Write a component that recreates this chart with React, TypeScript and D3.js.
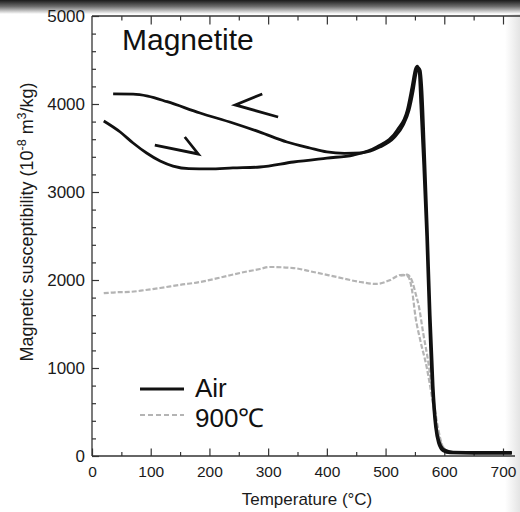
import { useEffect, useRef } from 'react';
import * as d3 from 'd3';

// Air run, heating branch (temperature °C, susceptibility 10^-8 m3/kg)
const airHeatT = [20, 48, 70, 93, 116, 138, 165, 200, 240, 286, 343, 400, 445, 485, 520, 537, 545, 551, 554, 557, 560, 565, 570, 575, 580, 585, 590, 598, 610, 650, 715];
const airHeatK = [3807, 3682, 3557, 3443, 3352, 3295, 3265, 3262, 3273, 3284, 3341, 3386, 3420, 3511, 3705, 3932, 4193, 4400, 4430, 4380, 4000, 3300, 2500, 1500, 750, 330, 150, 60, 35, 30, 30];

// Air run, cooling branch
const airCoolT = [36, 70, 95, 128, 184, 240, 286, 332, 371, 400, 430, 460, 490, 515, 530, 540, 547, 552, 556, 559, 562, 566, 571, 576, 581, 586, 592, 600, 615, 660, 715];
const airCoolK = [4114, 4112, 4090, 4026, 3898, 3784, 3680, 3568, 3500, 3455, 3440, 3445, 3510, 3620, 3760, 3930, 4150, 4350, 4410, 4380, 4150, 3500, 2600, 1600, 800, 350, 150, 70, 45, 40, 40];

// sample fired at 900°C, heating
const firedHeatT = [20, 40, 65, 90, 116, 150, 184, 220, 252, 286, 303, 343, 377, 417, 457, 485, 508, 525, 537, 545, 551, 557, 564, 573, 581, 589, 598, 610, 650, 715];
const firedHeatK = [1850, 1860, 1865, 1885, 1909, 1945, 1977, 2030, 2080, 2125, 2148, 2136, 2091, 2034, 1977, 1955, 2000, 2057, 2060, 1990, 1850, 1690, 1400, 1057, 670, 330, 102, 40, 35, 35];

// sample fired at 900°C, cooling (only the part that splits off)
const firedCoolT = [525, 533, 539, 545, 551, 559, 570, 579, 587, 598, 610, 650, 715];
const firedCoolK = [2050, 2055, 2034, 1886, 1580, 1318, 1011, 670, 330, 100, 40, 40, 40];

// direction marks drawn on the loop
const heatArrowT = [107, 181, 158];
const heatArrowK = [3534, 3432, 3625];
const coolArrowT = [290, 244, 317];
const coolArrowK = [4114, 3989, 3852];

const tempTicks = [0, 100, 200, 300, 400, 500, 600, 700];
const suscTicks = [0, 1000, 2000, 3000, 4000, 5000];

const legendNames = ['Air', '900℃'];

const font = "'Liberation Sans', Arial, sans-serif";

function zipPts(t: number[], k: number[]) {
    return t.map((d, i) => [d, k[i]] as [number, number]);
}

export default function App() {
    const ref = useRef<SVGSVGElement>(null);

    useEffect(() => {
        const width = 520;
        const height = 512;
        const left = 92;
        const top = 16;
        const bottom = 456;

        const svg = d3.select(ref.current);
        svg.selectAll('*').remove();

        // photo-like shading at top and right edge
        const defs = svg.append('defs');
        const topGrad = defs.append('linearGradient')
            .attr('id', 'topShade').attr('x1', 0).attr('y1', 0).attr('x2', 0).attr('y2', 1);
        topGrad.append('stop').attr('offset', '0%').attr('stop-color', '#1a1a1a');
        topGrad.append('stop').attr('offset', '45%').attr('stop-color', '#6a6a6a');
        topGrad.append('stop').attr('offset', '100%').attr('stop-color', '#ffffff');
        const rightGrad = defs.append('linearGradient')
            .attr('id', 'rightShade').attr('x1', 0).attr('y1', 0).attr('x2', 1).attr('y2', 0);
        rightGrad.append('stop').attr('offset', '0%').attr('stop-color', '#ffffff');
        rightGrad.append('stop').attr('offset', '100%').attr('stop-color', '#e4e4e4');

        svg.append('rect').attr('width', width).attr('height', height).attr('fill', '#fff');
        svg.append('rect').attr('x', 505).attr('width', 15).attr('height', height).attr('fill', 'url(#rightShade)');
        // dark band along the top of the photo
        svg.append('rect').attr('width', width).attr('height', 14).attr('fill', 'url(#topShade)');

        // scales
        const x = d3.scaleLinear().domain([0, 700]).range([left, 503]);
        const y = d3.scaleLinear().domain([0, 5000]).range([bottom, top]);

        const axisColor = '#333';

        // frame lines
        svg.append('line').attr('x1', left).attr('x2', left).attr('y1', top).attr('y2', bottom)
            .attr('stroke', axisColor).attr('stroke-width', 1.3);
        svg.append('line').attr('x1', left).attr('x2', 520).attr('y1', top).attr('y2', top)
            .attr('stroke', axisColor).attr('stroke-width', 1.3);
        svg.append('line').attr('x1', left).attr('x2', 515).attr('y1', bottom).attr('y2', bottom)
            .attr('stroke', axisColor).attr('stroke-width', 1.3);

        function styleAxis(g: any, size: number) {
            g.select('.domain').remove();
            g.selectAll('line').attr('stroke', axisColor).attr('stroke-width', 1.2);
            g.selectAll('text').attr('fill', '#1a1a1a').style('font-family', font).style('font-size', size + 'px');
        }

        // x axis (ticks point inward)
        svg.append('g').attr('transform', `translate(0,${bottom})`)
            .call(d3.axisBottom(x).tickValues(d3.range(50, 701, 100)).tickSize(-4).tickFormat(() => ''))
            .call((g: any) => styleAxis(g, 15));
        svg.append('g').attr('transform', `translate(0,${bottom})`)
            .call(d3.axisBottom(x).tickValues(tempTicks).tickSize(-7.5).tickPadding(10).tickFormat(d3.format('d')))
            .call((g: any) => styleAxis(g, 15.5));

        // top ticks
        svg.append('g').attr('transform', `translate(0,${top})`)
            .call(d3.axisTop(x).tickValues(d3.range(50, 701, 100)).tickSize(-4.5).tickFormat(() => ''))
            .call((g: any) => styleAxis(g, 15));
        svg.append('g').attr('transform', `translate(0,${top})`)
            .call(d3.axisTop(x).tickValues(tempTicks.slice(1)).tickSize(-8.5).tickFormat(() => ''))
            .call((g: any) => styleAxis(g, 15));

        // y axis
        svg.append('g').attr('transform', `translate(${left},0)`)
            .call(d3.axisLeft(y).tickValues(d3.range(200, 5000, 200).filter(d => d % 1000 !== 0)).tickSize(-4).tickFormat(() => ''))
            .call((g: any) => styleAxis(g, 17));
        svg.append('g').attr('transform', `translate(${left},0)`)
            .call(d3.axisLeft(y).tickValues(suscTicks).tickSize(-7).tickPadding(7).tickFormat(d3.format('d')))
            .call((g: any) => styleAxis(g, 17));

        // axis titles
        svg.append('text')
            .attr('x', 307).attr('y', 505)
            .attr('text-anchor', 'middle')
            .style('font-family', font).style('font-size', '17px').attr('fill', '#1a1a1a')
            .text('Temperature (°C)');

        const yTitle = svg.append('text')
            .attr('transform', 'translate(33,222) rotate(-90)')
            .attr('text-anchor', 'middle')
            .style('font-family', font).style('font-size', '18px').attr('fill', '#1a1a1a');
        yTitle.append('tspan').text('Magnetic susceptibility (10');
        yTitle.append('tspan').attr('dy', -7).style('font-size', '12.5px').text('-8');
        yTitle.append('tspan').attr('dy', 7).text(' m');
        yTitle.append('tspan').attr('dy', -7).style('font-size', '12.5px').text('3');
        yTitle.append('tspan').attr('dy', 7).text('/kg)');

        svg.append('text')
            .attr('x', 122).attr('y', 50)
            .style('font-family', font).style('font-size', '30px').attr('fill', '#111')
            .text('Magnetite');

        // curves
        const line = d3.line<[number, number]>()
            .x(d => x(d[0]))
            .y(d => y(d[1]))
            .curve(d3.curveMonotoneX);

        const grey = '#b4b4b4';
        svg.append('path').attr('d', line(zipPts(firedHeatT, firedHeatK)))
            .attr('fill', 'none').attr('stroke', grey).attr('stroke-width', 2.2).attr('stroke-dasharray', '5,2');
        svg.append('path').attr('d', line(zipPts(firedCoolT, firedCoolK)))
            .attr('fill', 'none').attr('stroke', grey).attr('stroke-width', 2.2).attr('stroke-dasharray', '5,2');

        svg.append('path').attr('d', line(zipPts(airHeatT, airHeatK)))
            .attr('fill', 'none').attr('stroke', '#111').attr('stroke-width', 2.8).attr('stroke-linejoin', 'round');
        svg.append('path').attr('d', line(zipPts(airCoolT, airCoolK)))
            .attr('fill', 'none').attr('stroke', '#111').attr('stroke-width', 2.8).attr('stroke-linejoin', 'round');

        // heating / cooling arrows
        const straight = d3.line<[number, number]>().x(d => x(d[0])).y(d => y(d[1]));
        [zipPts(heatArrowT, heatArrowK), zipPts(coolArrowT, coolArrowK)].forEach(pts => {
            svg.append('path').attr('d', straight(pts))
                .attr('fill', 'none').attr('stroke', '#111').attr('stroke-width', 2.8);
        });

        // legend
        const legend = svg.append('g').attr('transform', 'translate(140,389)');
        legend.append('line').attr('x1', 0).attr('x2', 44).attr('y1', 0).attr('y2', 0)
            .attr('stroke', '#111').attr('stroke-width', 2.8);
        legend.append('line').attr('x1', 0).attr('x2', 44).attr('y1', 26).attr('y2', 26)
            .attr('stroke', grey).attr('stroke-width', 2.2).attr('stroke-dasharray', '5,3');
        legend.selectAll('.lbl')
            .data(legendNames).enter()
            .append('text')
            .attr('class', 'lbl')
            .attr('x', 55)
            .attr('y', (d, i) => 8 + i * 30)
            .style('font-family', font).style('font-size', '26px').attr('fill', '#111')
            .text(d => d);
    }, []);

    return (
        <svg ref={ref} width={520} height={512}
            style={{ position: 'absolute', left: 0, top: 0, background: '#fff' }} />
    );
}
